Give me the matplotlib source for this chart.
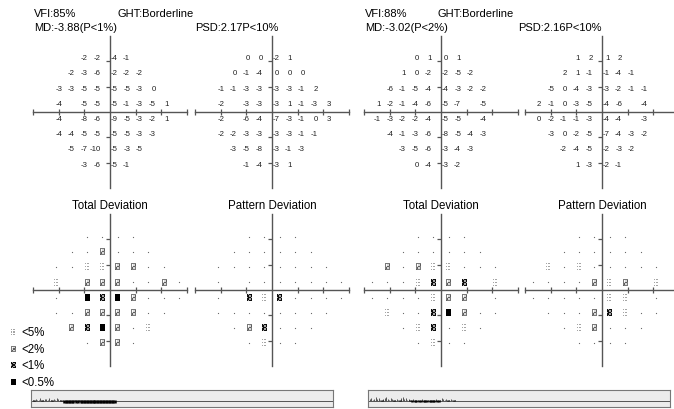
import matplotlib

matplotlib.use("Agg")
import matplotlib.pyplot as plt
import numpy as np

plt.rcParams["font.family"] = ["Liberation Sans", "DejaVu Sans"]

W, H = 674, 410

# 24-2 test grid: row eccentricities and first column of each row
ROW_Y = [21, 15, 9, 3, -3, -9, -15, -21]
ROW_START_OS = [-9, -15, -21, -21, -21, -21, -15, -9]
ROW_START_OD = [-9, -15, -21, -27, -27, -21, -15, -9]

OS_TD = [
    [-2, -2, -4, -1],
    [-2, -3, -6, -2, -2, -2],
    [-3, -3, -5, -5, -5, -5, -3, 0],
    [-4, None, -5, -5, -5, -1, -3, -5, 1],
    [-4, None, -8, -6, -9, -5, -3, -2, 1],
    [-4, -4, -5, -5, -5, -5, -3, -3],
    [-5, -7, -10, -5, -3, -5],
    [-3, -6, -5, -1],
]
OS_PD = [
    [0, 0, -2, 1],
    [0, -1, -4, 0, 0, 0],
    [-1, -1, -3, -3, -3, -3, -1, 2],
    [-2, None, -3, -3, -3, 1, -1, -3, 3],
    [-2, None, -6, -4, -7, -3, -1, 0, 3],
    [-2, -2, -3, -3, -3, -3, -1, -1],
    [-3, -5, -8, -3, -1, -3],
    [-1, -4, -3, 1],
]
OD_TD = [
    [0, 1, 0, 1],
    [1, 0, -2, -2, -5, -2],
    [-6, -1, -5, -4, -4, -3, -2, -2],
    [1, -2, -1, -4, -6, -5, -7, None, -5],
    [-1, -3, -2, -2, -4, -5, -5, None, -4],
    [-4, -1, -3, -6, -8, -5, -4, -3],
    [-3, -5, -6, -3, -4, -3],
    [0, -4, -3, -2],
]
OD_PD = [
    [1, 2, 1, 2],
    [2, 1, -1, -1, -4, -1],
    [-5, 0, -4, -3, -3, -2, -1, -1],
    [2, -1, 0, -3, -5, -4, -6, None, -4],
    [0, -2, -1, -1, -3, -4, -4, None, -3],
    [-3, 0, -2, -5, -7, -4, -3, -2],
    [-2, -4, -5, -2, -3, -2],
    [1, -3, -2, -1],
]

# probability maps: "." normal, "5" <5%, "2" <2%, "1" <1%, "b" <0.5%, " " blind spot
OS_TD_P = ["....", "..2...", "..5522..", "5 222..2.", ". b1b2...", "..2222..", "21b2.5", ".22."]
OS_PD_P = ["....", "......", "........", ". .......", ". 151....", "........", ".21...", ".5.."]
OD_TD_P = ["....", "......", "2.255...", "...5121 5", "....522 .", "5..1b2..", ".51.5.", ".5.."]
OD_PD_P = ["....", "......", "5.5.....", "....252 5", ".....55 .", "...215..", ".52...", "...."]

OS_HEADER = ["VFI:85%", "GHT:Borderline", "MD:-3.88(P<1%)", "PSD:2.17P<10%"]
OD_HEADER = ["VFI:88%", "GHT:Borderline", "MD:-3.02(P<2%)", "PSD:2.16P<10%"]
TITLES = ["Total Deviation", "Pattern Deviation"]

LEGEND_CODES = ["5", "2", "1", "b"]
LEGEND_LABELS = ["<5%", "<2%", "<1%", "<0.5%"]

# gaze tracker deflections (up = gaze error, down = no detection)
GAZE_OS = [1, 0, 2, 1, 1, 3, 0, 1, 2, 2, 1, 3, 1, 0, 2, 1, 3, 2, 1, 0, 1,
           -2.5, -2.5, -2.5, -2.5, -2.5, -2.5, -2.5, 0, -2.5, -2.5, 0, -2.5, -2.5,
           -2.5, -2.5, -2.5, -2.5, -2.5, -2.5, -2.5, -2.5, -2.5, -2.5, -2.5, -2.5,
           -2.5, -2.5, -2.5, -2.5, -2.5, -2.5, -2.5, -2.5, -2.5, -2.5]
GAZE_OD = [2, 3, 1, 2, 4, 2, 3, 1, 0, 2, 3, 4, 2, 1, 3, 2, 0, 1, 2, 1, 0, 3, 4, 2,
           3, 1, 2, 0, -1.5, 2, -1.5, -1.5, 1, -1.5, -1.5, 2, -1.5, -1.5, -1.5, 1,
           -1.5, -1.5, -1.5, -1.5, 2, -1.5, -1.5, 1, 3, 2, 1, 2, 0, 1, 2, 1, 0, 1]

PATTERNS = {
    "5": np.array([[.45, 0, .45, 0], [0, 0, 0, 0], [.45, 0, .45, 0], [0, 0, 0, 0], [.45, 0, .45, 0]]),
    "2": np.array([[.6, .6, .6, .6], [.6, 0, .25, .7], [.6, .25, .7, .6],
                   [.6, .7, .25, .6], [.7, .6, .6, .6]]),
    "1": np.array([[.95, .45, .95, .95], [.95, .95, .45, .95], [.45, .95, .95, .45],
                   [.95, .95, .45, .95], [.95, .45, .95, .95]]),
    "b": np.ones((5, 4)),
}


def grid_points(starts, rows):
    for y, x0, row in zip(ROW_Y, starts, rows):
        for k, value in enumerate(row):
            yield x0 + 6 * k, y, value


def field_axes(fig, cx, cy, half_w=77, half_h=76):
    ax = fig.add_axes([(cx - half_w) / W, 1 - (cy + half_h) / H, 2 * half_w / W, 2 * half_h / H])
    ax.patch.set_visible(False)
    for side in ("top", "right"):
        ax.spines[side].set_visible(False)
    for side in ("left", "bottom"):
        ax.spines[side].set_position(("data", 0))
        ax.spines[side].set_color("#555555")
        ax.spines[side].set_linewidth(1.0)
    ax.set_xticks([-30, -20, -10, 10, 20, 30])
    ax.set_yticks([-20, -10, 10, 20])
    ax.tick_params(axis="x", direction="inout", length=4, width=0.9, color="#555555", labelbottom=False)
    ax.tick_params(axis="y", direction="out", length=3, width=0.9, color="#555555", labelleft=False)
    return ax


def draw_numbers(ax, starts, rows):
    for x, y, value in grid_points(starts, rows):
        if value is None:
            continue
        ax.text(0.83 * x + 0.78 * np.sign(x) - 0.4, y + 0.4, str(value),
                ha="right", va="center", fontsize=5.6, color="#222222")
    ax.set_xlim(-30, 30)
    ax.set_ylim(-30, 30)


def draw_symbol(ax, code, x, y, w, h):
    ax.imshow(PATTERNS[code], cmap="Greys", vmin=0, vmax=1, extent=(x - w / 2, x + w / 2, y - h / 2, y + h / 2),
              interpolation="nearest", aspect="auto", zorder=3)


def draw_probabilities(ax, starts, rows):
    dots_x, dots_y = [], []
    for x, y, code in grid_points(starts, rows):
        if code == " ":
            continue
        if code == ".":
            dots_x.append(x)
            dots_y.append(y)
        else:
            draw_symbol(ax, code, x, y, 1.8, 2.5)
    ax.scatter(dots_x, dots_y, s=0.8, color="#666666", linewidths=0)
    ax.set_xlim(-30, 30)
    ax.set_ylim(-30, 30)


def draw_gaze(fig, x0, x1, y0, y1, values):
    ax = fig.add_axes([x0 / W, 1 - y1 / H, (x1 - x0) / W, (y1 - y0) / H])
    ax.set_facecolor("#ececec")
    for spine in ax.spines.values():
        spine.set_color("#777777")
        spine.set_linewidth(0.8)
    ax.set_xticks([])
    ax.set_yticks([])
    ax.set_xlim(0, (x1 - x0) / 1.5)
    ax.set_ylim(-6.5, 10.5)
    ax.axhline(0, color="#555555", lw=0.7)
    idx = np.arange(1, len(values) + 1)
    vals = np.array(values, dtype=float)
    up = vals > 0
    ax.vlines(idx[up], 0, vals[up], color="#555555", lw=0.7)
    ax.vlines(idx[~up], vals[~up], 0.8, color="black", lw=1.8)


def main() -> None:
    fig = plt.figure(figsize=(W / 100, H / 100), dpi=100)

    panels = [
        (110, 272, ROW_START_OS, OS_TD, OS_PD, OS_TD_P, OS_PD_P),
        (441, 602, ROW_START_OD, OD_TD, OD_PD, OD_TD_P, OD_PD_P),
    ]
    for td_x, pd_x, starts, td, pd, td_p, pd_p in panels:
        draw_numbers(field_axes(fig, td_x, 113), starts, td)
        draw_numbers(field_axes(fig, pd_x, 113), starts, pd)
        draw_probabilities(field_axes(fig, td_x, 291), starts, td_p)
        draw_probabilities(field_axes(fig, pd_x, 291), starts, pd_p)

    overlay = fig.add_axes([0, 0, 1, 1], zorder=-1)
    overlay.set_xlim(0, W)
    overlay.set_ylim(H, 0)
    overlay.axis("off")

    header_pos = [((34, 14), (118, 14), (34, 28), (195, 28)),
                  ((365, 14), (437, 14), (365, 28), (518, 28))]
    for header, positions in zip([OS_HEADER, OD_HEADER], header_pos):
        for text, (hx, hy) in zip(header, positions):
            overlay.text(hx, hy, text, ha="left", va="center", fontsize=8)

    for cx, title in zip([110, 272, 441, 602], TITLES * 2):
        overlay.text(cx, 206, title, ha="center", va="center", fontsize=8.3)

    for k, (code, label) in enumerate(zip(LEGEND_CODES, LEGEND_LABELS)):
        ly = 333 + 16.7 * k
        draw_symbol(overlay, code, 13, ly, 4.8, -6.0)
        overlay.text(21, ly, label, ha="left", va="center", fontsize=8.3)
    overlay.set_xlim(0, W)
    overlay.set_ylim(H, 0)

    draw_gaze(fig, 31, 333, 391, 408, GAZE_OS)
    draw_gaze(fig, 368, 670, 391, 408, GAZE_OD)

    fig.savefig("out.png", dpi=100, facecolor="white")
    plt.close(fig)


if __name__ == "__main__":
    main()
